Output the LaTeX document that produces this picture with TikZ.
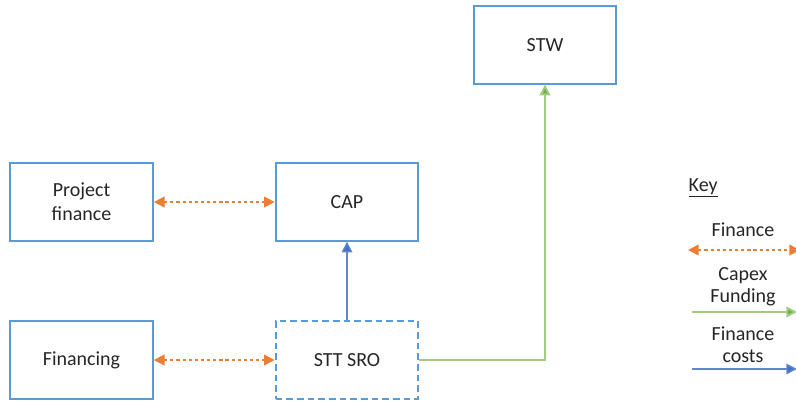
\documentclass[tikz,border=0pt]{standalone}
\usepackage{fontspec}
\setmainfont{Carlito}
\usepackage{tikz}
\usetikzlibrary{arrows.meta,positioning}

\definecolor{boxblue}{RGB}{91,155,213}
\definecolor{finorange}{RGB}{237,125,49}
\definecolor{capexgreen}{RGB}{112,173,71}
\definecolor{capexline}{RGB}{160,204,130}
\definecolor{costblue}{RGB}{68,114,196}

\tikzset{
	entity/.style={draw=boxblue, line width=1.5pt, minimum width=107pt, minimum height=58pt,
		align=center, font=\fontsize{15}{18}\selectfont, text=black!85},
	sroentity/.style={entity, dashed, dash pattern=on 5pt off 3pt},
	finflow/.style={draw=finorange, line width=1.2pt, dash pattern=on 2.4pt off 2.2pt,
		{Triangle[length=8pt,width=8pt,fill=finorange]}-{Triangle[length=8pt,width=8pt,fill=finorange]}},
	capexflow/.style={draw=capexline, line width=1.4pt, -{Triangle[length=8pt,width=8pt,fill=capexgreen]}},
	costflow/.style={draw=costblue!85, line width=1pt, -{Triangle[length=8pt,width=8pt,fill=costblue]}},
	keytext/.style={align=center, font=\fontsize{15}{16.5}\selectfont, text=black!85}
}

\begin{document}
\begin{tikzpicture}[x=0.75pt, y=-0.75pt]
	% page size
	\useasboundingbox (0,0) rectangle (796,401);
	% entities
	\node[entity] (projfin) at (81.5,202) {Project\\finance};
	\node[entity] (cap) at (347,202) {CAP};
	\node[entity] (financing) at (81.5,360) {Financing};
	\node[sroentity] (sttsro) at (347,360) {STT SRO};
	\node[entity] (stw) at (545,45) {STW};
	% flows between entities
	\draw[finflow] (projfin) -- (cap);
	\draw[finflow] (financing) -- (sttsro);
	\draw[costflow] (sttsro) -- (cap);
	\draw[capexflow] (sttsro.east) -| (stw.south);
	% key
	\node[keytext, anchor=west] (key) at (684,188) {\underline{Key}};
	\node[keytext] (keyfin) at (743,230) {Finance};
	\node[keytext] (keycapex) at (743,287) {Capex\\Funding};
	\node[keytext] (keycost) at (743,345) {Finance\\costs};
	\coordinate (finA) at (688,250);
	\coordinate (finB) at (800,250);
	\coordinate (capexA) at (692,312);
	\coordinate (capexB) at (797,312);
	\coordinate (costA) at (692,369);
	\coordinate (costB) at (797,369);
	\draw[finflow] (finA) -- (finB);
	\draw[capexflow] (capexA) -- (capexB);
	\draw[costflow] (costA) -- (costB);
\end{tikzpicture}
\end{document}
